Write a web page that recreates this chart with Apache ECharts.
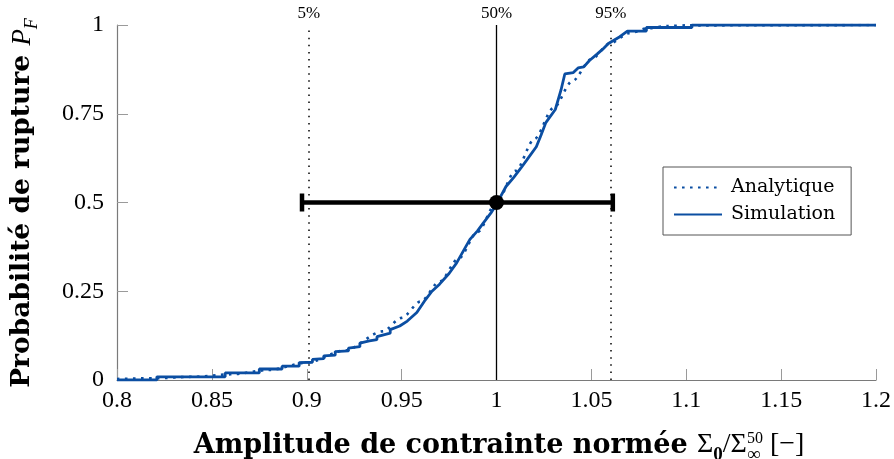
<!DOCTYPE html>
<html><head><meta charset="utf-8">
<script src="https://cdn.jsdelivr.net/npm/echarts@6/dist/echarts.min.js"></script>
<style>html,body{margin:0;padding:0;background:#fff}#c{width:894px;height:459px}</style>
</head><body><div id="c"></div>
<script>
// ---- data ----
const simX = [0.800,0.821,0.821,0.857,0.857,0.875,0.875,0.887,0.887,0.896,0.896,0.903,0.903,0.909,0.909,0.915,0.915,0.922,0.922,0.928,0.928,0.933,0.937,0.937,0.941,0.944,0.944,0.949,0.953,0.958,0.962,0.966,0.970,0.975,0.979,0.983,0.986,0.990,0.993,0.997,1.000,1.002,1.005,1.009,1.013,1.016,1.021,1.0235,1.026,1.031,1.034,1.036,1.0405,1.043,1.046,1.049,1.053,1.056,1.059,1.065,1.069,1.079,1.079,1.103,1.103,1.200];
const simY = [0.000,0.000,0.009,0.009,0.020,0.020,0.031,0.031,0.039,0.039,0.049,0.050,0.058,0.060,0.068,0.070,0.080,0.082,0.090,0.094,0.104,0.110,0.114,0.122,0.128,0.132,0.142,0.152,0.166,0.190,0.222,0.250,0.270,0.300,0.330,0.368,0.396,0.420,0.442,0.470,0.495,0.515,0.545,0.570,0.598,0.620,0.657,0.690,0.725,0.762,0.817,0.862,0.866,0.879,0.882,0.900,0.918,0.932,0.948,0.967,0.983,0.983,0.993,0.993,1.000,1.000];
const analyticX = [0.80,0.82,0.84,0.86,0.88,0.90,0.92,0.94,0.95,0.96,0.97,0.98,0.99,1.00,1.01,1.02,1.03,1.04,1.05,1.06,1.07,1.08,1.09,1.10,1.20];
const analyticY = [0.003,0.005,0.009,0.016,0.028,0.049,0.083,0.137,0.175,0.221,0.277,0.342,0.417,0.500,0.589,0.679,0.766,0.842,0.904,0.949,0.977,0.991,0.997,0.999,1.000];
const percentileX = [0.9011, 1.0, 1.0603];
const percentileLabels = ['5%', '50%', '95%'];
const errorBarX = [0.8975, 1.0613];
const medianPoint = [1.0, 0.5];
const seriesNames = ['Analytique', 'Simulation'];

const BLUE = '#0b4ea2';
const zip = (xs, ys) => xs.map((x, i) => [x, ys[i]]);

// ---- text measuring for composed titles ----
const mctx = document.createElement('canvas').getContext('2d');
function fontStr(p){ return (p.italic?'italic ':'') + (p.bold?'bold ':'') + p.size + 'px "' + p.family + '"'; }
function layout(pieces){
  let x = 0; const out = [];
  for (const p of pieces){
    const items = p.stack || [p]; let adv = 0;
    for (const it of items){
      mctx.font = fontStr(it);
      const wd = mctx.measureText(it.text).width;
      out.push(Object.assign({ox: x}, it));
      adv = Math.max(adv, wd);
    }
    x += adv;
  }
  return {items: out, total: x};
}
function toEls(lay, x0, y0){
  return lay.items.map(it => ({
    type: 'text', x: x0 + it.ox, y: y0 + (it.dy || 0), silent: true,
    style: { text: it.text, fontSize: it.size, fontFamily: it.family,
      fontWeight: it.bold ? 'bold' : 'normal', fontStyle: it.italic ? 'italic' : 'normal',
      fill: '#000', align: 'left', verticalAlign: 'bottom' }
  }));
}
const DS = 'DejaVu Serif', LS = 'Liberation Serif';
const xTitle = layout([
  {text: 'Amplitude de contrainte normée ', size: 27, bold: true, family: DS},
  {text: 'Σ', size: 28, family: LS},
  {text: '0', size: 19, bold: true, family: LS, dy: 6},
  {text: '/Σ', size: 28, family: LS},
  {stack: [{text: '50', size: 16, family: LS, dy: -12}, {text: '∞', size: 19, family: LS, dy: 6}]},
  {text: ' [−]', size: 28, family: LS}
]);
const yTitle = layout([
  {text: 'Probabilité de rupture ', size: 26.5, bold: true, family: DS},
  {text: 'P', size: 27, italic: true, family: LS},
  {text: 'F', size: 18, italic: true, family: LS, dy: 5}
]);

const chart = echarts.init(document.getElementById('c'), null, {renderer: 'canvas'});
const fmt = v => String(Math.round(v * 100) / 100);

chart.setOption({
  animation: false,
  grid: {left: 117, right: 18, top: 25, bottom: 79, containLabel: false},
  legend: {
    data: seriesNames, orient: 'vertical', left: 663, top: 167,
    padding: [11, 16, 11, 10], itemGap: 8, itemWidth: 48, itemHeight: 20,
    borderColor: '#555', borderWidth: 1, borderRadius: 0, backgroundColor: '#fff',
    itemStyle: {opacity: 0},
    textStyle: {fontFamily: DS, fontSize: 19, color: '#000', padding: [0, 0, 0, 4]},
    selectedMode: false
  },
  xAxis: {
    type: 'value', min: 0.8, max: 1.2, interval: 0.05,
    axisLine: {onZero: false, lineStyle: {color: '#7a7a7a', width: 1.2}},
    axisTick: {inside: true, length: 11, lineStyle: {color: '#9a9a9a', width: 1}},
    axisLabel: {color: '#000', fontFamily: LS, fontSize: 24, margin: 9, formatter: fmt, hideOverlap: false, showMinLabel: true, showMaxLabel: true},
    splitLine: {show: false}
  },
  yAxis: {
    type: 'value', min: 0, max: 1, interval: 0.25,
    axisLine: {show: true, onZero: false, lineStyle: {color: '#7a7a7a', width: 1.2}},
    axisTick: {show: true, inside: true, length: 11, lineStyle: {color: '#9a9a9a', width: 1}},
    axisLabel: {color: '#000', fontFamily: LS, fontSize: 24, margin: 13, formatter: fmt},
    splitLine: {show: false}
  },
  series: [
    {
      name: seriesNames[0], type: 'line', data: zip(analyticX, analyticY),
      symbol: 'none', smooth: 0.3, smoothMonotone: 'x', z: 2,
      lineStyle: {color: BLUE, width: 2.6, type: [2.6, 5.4], cap: 'butt'},
      itemStyle: {color: BLUE},
      markLine: {
        symbol: ['none', 'none'], silent: true, animation: false,
        label: {show: true, position: 'end', distance: 3, color: '#000', fontFamily: LS, fontSize: 17},
        data: percentileX.map((x, i) => {
          const ls = i === 1 ? {color: '#000', width: 1.3, type: 'solid'} : {color: '#000', width: 1.5, type: [1.5, 5.6]};
          const lb = {formatter: percentileLabels[i]};
          return [{coord: [x, 0], lineStyle: ls, label: lb}, {coord: [x, 1], lineStyle: ls, label: lb}];
        })
      }
    },
    {
      name: seriesNames[1], type: 'line', data: zip(simX, simY),
      symbol: 'none', z: 3,
      lineStyle: {color: BLUE, width: 2.8},
      itemStyle: {color: BLUE}
    },
    {
      name: 'errbar', type: 'custom', z: 10, silent: true,
      data: [[errorBarX[0], errorBarX[1], medianPoint[1]]],
      encode: {x: [0, 1], y: 2},
      renderItem: (params, api) => {
        const a = api.coord([api.value(0), api.value(2)]);
        const b = api.coord([api.value(1), api.value(2)]);
        const st = {stroke: '#000', lineWidth: 4.5};
        return {type: 'group', children: [
          {type: 'line', shape: {x1: a[0], y1: a[1], x2: b[0], y2: b[1]}, style: st},
          {type: 'line', shape: {x1: a[0], y1: a[1] - 9, x2: a[0], y2: a[1] + 9}, style: st},
          {type: 'line', shape: {x1: b[0], y1: b[1] - 9, x2: b[0], y2: b[1] + 9}, style: st}
        ]};
      }
    },
    {
      name: 'median', type: 'scatter', data: [medianPoint], z: 20, silent: true,
      symbolSize: 15, itemStyle: {color: '#000', opacity: 1}
    }
  ],
  graphic: [
    {type: 'group', silent: true, children: toEls(xTitle, 499 - xTitle.total / 2, 459)},
    {type: 'group', silent: true, x: 36, y: 203, rotation: Math.PI / 2, children: toEls(yTitle, -yTitle.total / 2, 0)}
  ]
});
</script></body></html>
